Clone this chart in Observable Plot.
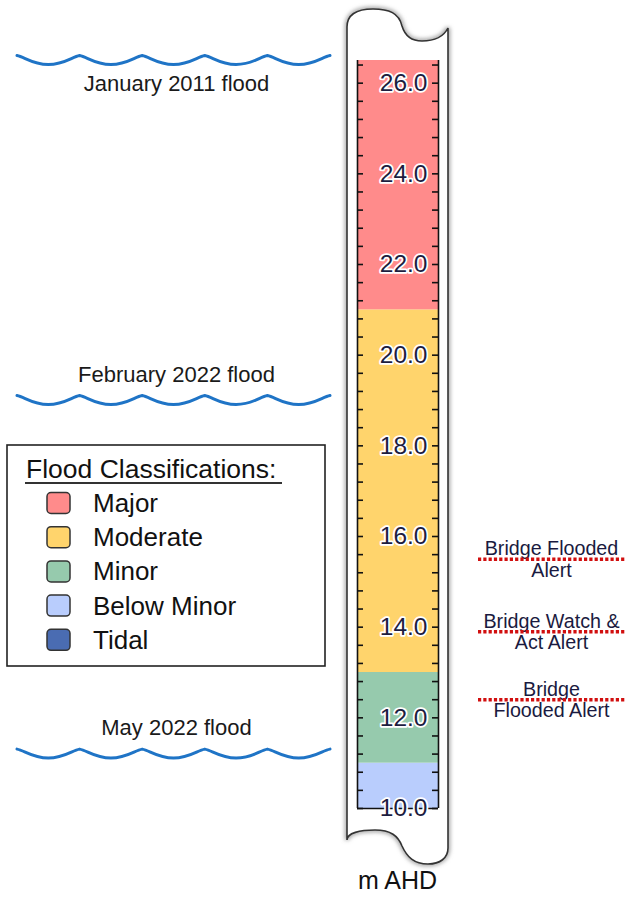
<!DOCTYPE html>
<html><head><meta charset="utf-8">
<script src="https://cdn.jsdelivr.net/npm/d3@7"></script>
<script src="https://cdn.jsdelivr.net/npm/@observablehq/plot@0.6"></script>
<style>
body{margin:0;background:#fff;}
#wrap{width:628px;height:902px;}
</style></head><body><div id="wrap"></div>
<script>
// ---- data ----
const classes = ["Major", "Moderate", "Minor", "Below Minor", "Tidal"];
const classColors = ["#ff8b8b", "#ffd46c", "#96caad", "#b9cdfd", "#4a6cb2"];
const bandClasses = ["Below Minor", "Minor", "Moderate", "Major"];
const bandLow = [10, 11, 13, 21];
const bandHigh = [11, 13, 21, 26.5];
const gaugeMin = 10, gaugeMax = 26.5, minorStep = 0.4;
const tickLabels = [10, 12, 14, 16, 18, 20, 22, 24, 26];
const floodNames = ["January 2011 flood", "February 2022 flood", "May 2022 flood"];
const floodLevels = [26.5, 19.0, 11.2];
const alertLabels = ["Bridge Flooded\nAlert", "Bridge Watch &\nAct Alert", "Bridge\nFlooded Alert"];
const alertLevels = [15.5, 13.9, 12.4];
const axisTitle = "m AHD";
const legendTitle = "Flood Classifications:";

// ---- tables ----
const bands = bandClasses.map((c, i) => ({cls: c, lo: bandLow[i], hi: bandHigh[i]}));
const minorTicks = d3.range(0, Math.floor((gaugeMax - gaugeMin) / minorStep) + 1).map(i => +(gaugeMin + i * minorStep).toFixed(1));
const floods = floodNames.map((n, i) => ({name: n, level: floodLevels[i]}));
const alerts = alertLabels.map((t, i) => ({label: t, level: alertLevels[i]}));

const W = 628, H = 902;
const GL = 357, GR = 438;          // inner gauge edges
const font = "'Liberation Sans', Arial, Helvetica, sans-serif";

function tube() {
  const g = d3.create("svg:g");
  const d = "M347,27 C347,15 356,9 373,9 C389,9 399,13 402,26 C405,36 411,41 422,41 C435,41 444,36 448,28 " +
            "L448,848 C448,858 440,864 428,864 C414,864 407,857 402,846 C398,836 391,830 375,830 C360,830 347,833 347,840 Z";
  const f = g.append("defs").append("filter").attr("id", "tubeblur").attr("x", "-20%").attr("y", "-5%").attr("width", "140%").attr("height", "110%");
  f.append("feGaussianBlur").attr("stdDeviation", 2);
  g.append("path").attr("d", d).attr("fill", "none").attr("stroke", "#9a9a9a").attr("stroke-width", 4).attr("filter", "url(#tubeblur)");
  g.append("path").attr("d", d).attr("fill", "white").attr("stroke", "#333").attr("stroke-width", 1.6);
  return g.node();
}

function waves(index, scales) {
  const g = d3.create("svg:g").attr("fill", "none").attr("stroke", "#1f74c6")
    .attr("stroke-width", 3).attr("stroke-linecap", "round").attr("stroke-linejoin", "round");
  for (const fl of floods) {
    const yc = scales.y(fl.level);
    const x0 = 17, x1 = 330, n = 5, p = (x1 - x0) / n, a = 4.5;
    let d = `M${x0},${yc - a}`;
    for (let i = 0; i < n; i++) {
      const xs = x0 + i * p, xm = xs + p / 2, xe = xs + p;
      d += ` C${xs + p * 0.12},${yc - a + 1.5} ${xs + p * 0.25},${yc + a} ${xm},${yc + a}`;
      d += ` C${xe - p * 0.25},${yc + a} ${xe - p * 0.12},${yc - a + 1.5} ${xe},${yc - a}`;
    }
    g.append("path").attr("d", d);
  }
  return g.node();
}

function legend(index, scales) {
  const g = d3.create("svg:g").attr("font-family", font).attr("fill", "#111").attr("text-anchor", "start");
  g.append("rect").attr("x", 7).attr("y", 445).attr("width", 318).attr("height", 221)
    .attr("fill", "white").attr("stroke", "#222").attr("stroke-width", 1.6);
  g.append("text").attr("x", 26).attr("y", 478).attr("font-size", 26.5).text(legendTitle);
  g.append("line").attr("x1", 25).attr("x2", 282).attr("y1", 483).attr("y2", 483)
    .attr("stroke", "#333").attr("stroke-width", 2);
  classes.forEach((c, i) => {
    const cy = 503 + i * 34.2;
    g.append("rect").attr("x", 47).attr("y", cy - 10.5).attr("width", 23).attr("height", 21).attr("rx", 4)
      .attr("fill", scales.color(c)).attr("stroke", "#333").attr("stroke-width", 1.5);
    g.append("text").attr("x", 93).attr("y", cy + 9).attr("font-size", 26).text(c);
  });
  return g.node();
}

const chart = Plot.plot({
  width: W, height: H, margin: 0,
  style: {fontFamily: font, background: "white"},
  x: {domain: [0, W], range: [0, W], axis: null},
  y: {domain: [gaugeMin, gaugeMax], range: [808, 60], axis: null},
  color: {domain: classes, range: classColors},
  marks: [
    tube,
    Plot.rect(bands, {x1: GL, x2: GR, y1: "lo", y2: "hi", fill: "cls"}),
    Plot.ruleX([GL, GR], {y1: gaugeMin, y2: gaugeMax, stroke: "#111", strokeWidth: 1.6}),
    Plot.ruleY([gaugeMin], {x1: GL, x2: GR, stroke: "#111", strokeWidth: 1.6}),
    Plot.ruleY(minorTicks, {x1: GL, x2: GL + 6, stroke: "#111", strokeWidth: 1.6}),
    Plot.ruleY(minorTicks, {x1: GR - 6, x2: GR, stroke: "#111", strokeWidth: 1.6}),
    Plot.text(tickLabels, {x: 427, y: d => d, text: d => d.toFixed(1), textAnchor: "end",
      fontSize: 24.5, fill: "#1d1d3f", stroke: "white", strokeWidth: 3.5}),
    waves,
    Plot.text(floods, {filter: d => d.level > gaugeMax - 1, x: 176, y: "level", text: "name", dy: 23, fontSize: 22, fill: "#1a1a1a"}),
    Plot.text(floods, {filter: d => d.level <= gaugeMax - 1, x: 176, y: "level", text: "name", dy: -26, fontSize: 22, fill: "#1a1a1a"}),
    legend,
    Plot.text(alerts, {x: 551, y: "level", text: "label", fontSize: 19.7, lineHeight: 1.08, fill: "#1a1a40"}),
    Plot.ruleY(alerts, {y: "level", x1: 478, x2: 626, stroke: "#d10f0f", strokeWidth: 3.5, strokeDasharray: "3.2 2.1"}),
    Plot.text([axisTitle], {x: 397, frameAnchor: "bottom", dy: -14, fontSize: 25, fill: "#111"})
  ]
});
document.getElementById("wrap").appendChild(chart);
</script></body></html>
